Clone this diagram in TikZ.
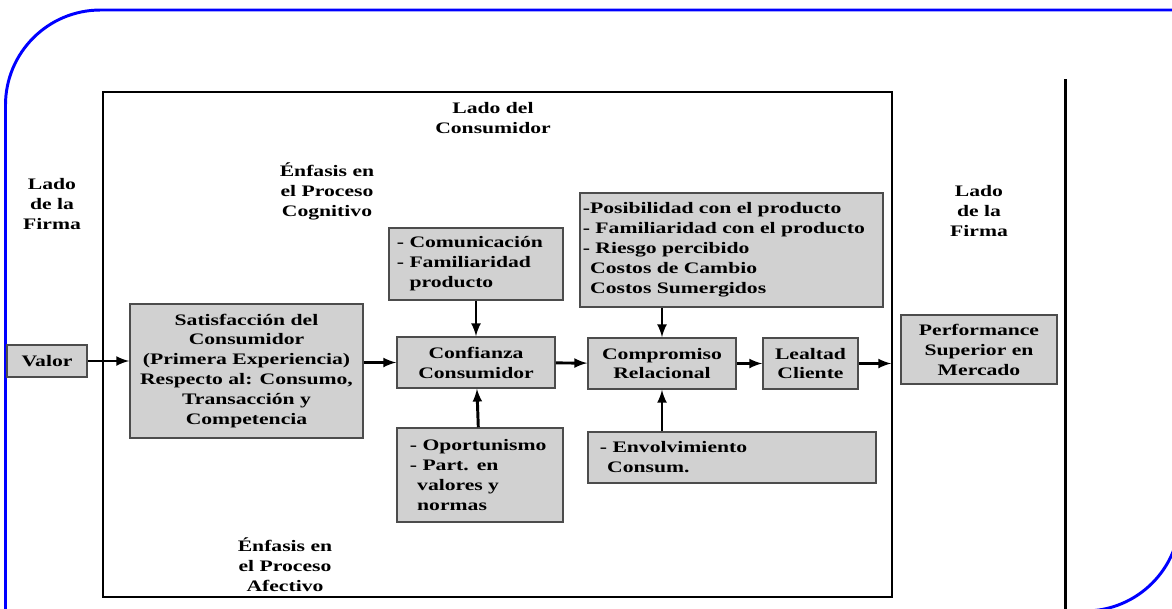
\documentclass[tikz,border=0pt]{standalone}
\usepackage{fontspec}
\setmainfont{Liberation Serif}[FakeStretch=1.35]
\usepackage{tikz}
\usetikzlibrary{calc,arrows}

\begin{document}
\begin{tikzpicture}[x=0.025cm,y=-0.025cm,
    every node/.style={font=\bfseries\fontsize{11.4}{14.2}\selectfont,align=center},
    caja/.style={draw=black!70,line width=1.1pt,fill=black!18,inner sep=0pt},
    lista/.style={caja,align=left,inner ysep=0pt},
    flecha/.style={-latex,line width=2.1pt}]
    \clip (0,0) rectangle (1172,608);

    \draw[blue,line width=2.1pt,rounded corners=2.375cm]
    (5.5,640) -- (5.5,10) -- (1200,10);
    \draw[blue,line width=2.1pt,rounded corners=2.375cm]
    (1180,300) -- (1180,611) -- (900,611);

    \draw[line width=1.8pt] (103,92) rectangle (892,597);
    \draw[line width=1.6pt] (1065.5,79) -- (1065.5,610);

    \node(firmaA) at (52,204) {Lado\\de la\\Firma};
    \node(firmaB) at (979,211) {Lado\\de la\\Firma};
    \node(consum) at (493,118) {Lado del\\Consumidor};
    \node(cognit) at (327,191) {Énfasis en\\el Proceso\\Cognitivo};
    \node(afect) at (285,565) {Énfasis en\\el Proceso\\Afectivo};

    \node[caja,minimum width=2cm,minimum height=0.8cm] (valor) at (47,361) {Valor};
    \node[caja,minimum width=5.825cm,minimum height=3.35cm] (satis) at (246.5,371)
    {Satisfacción del\\Consumidor\\(Primera Experiencia)\\Respecto al: Consumo,\\Transacción y\\Competencia};
    \node[caja,minimum width=3.95cm,minimum height=1.275cm] (conf) at (476,362.5) {Confianza\\Consumidor};
    \node[caja,minimum width=3.7cm,minimum height=1.275cm] (comp) at (662,363.5) {Compromiso\\Relacional};
    \node[caja,minimum width=2.375cm,minimum height=1.275cm] (leal) at (810.5,363.5) {Lealtad\\Cliente};
    \node[caja,minimum width=3.9cm,minimum height=1.725cm] (perf) at (979,349.5) {Performance\\Superior en\\Mercado};

    \node[lista,inner xsep=0.2cm,text width=3.95cm,minimum height=1.8cm] (comun) at (476,264)
    {- Comunicación\\- Familiaridad\\\phantom{- }producto};
    \node[lista,inner xsep=0.075cm,text width=7.425cm,minimum height=2.85cm] (posib) at (731.5,250)
    {-Posibilidad con el producto\\- Familiaridad con el producto\\- Riesgo percibido\\\phantom{-}Costos de Cambio\\\phantom{-}Costos Sumergidos};
    \node[lista,inner xsep=0.325cm,text width=3.5cm,minimum height=2.35cm] (oport) at (480,475)
    {- Oportunismo\\- Part. en\\\phantom{-}valores y\\\phantom{-}normas};
    \node[lista,inner xsep=0.3cm,text width=6.6cm,minimum height=1.275cm] (envol) at (732,457.5)
    {- Envolvimiento\\\phantom{-}Consum.};

    \draw[flecha] (valor) -- (valor -| satis.west);
    \draw[flecha] (satis.east |- conf) -- (conf);
    \draw[flecha]
    (conf) edge (comp)
    (comp) edge (leal);
    \draw[flecha,shorten >=0.225cm] (leal) -- (leal -| perf.west);
    \draw[flecha]
    (comun) edge (conf)
    (oport) edge (conf);
    \draw[flecha] (posib.south -| comp) -- (comp);
    \draw[flecha] (envol.north -| comp) -- (comp);
  \end{tikzpicture}
\end{document}
